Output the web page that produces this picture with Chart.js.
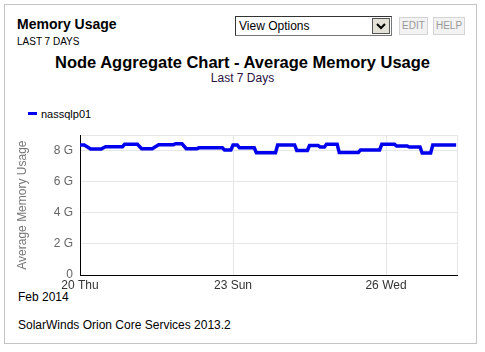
<!DOCTYPE html>
<html><head><meta charset="utf-8">
<script src="https://cdn.jsdelivr.net/npm/chart.js@4"></script>
<style>
html,body{margin:0;padding:0;background:#fff;}
body{width:485px;height:352px;position:relative;overflow:hidden;font-family:Arial,"Liberation Sans",sans-serif;}
.abs{position:absolute;white-space:nowrap;}
#box{left:4px;top:4px;width:471px;height:338px;border:1px solid #c4c4c4;}
#h1{left:17px;top:16px;font-size:14px;font-weight:bold;color:#000;}
#h2{left:17px;top:36px;font-size:10px;color:#000;}
#sel{left:235px;top:16px;width:155px;height:18px;border:1px solid #777;border-top-color:#333;border-left-color:#333;font-size:12px;line-height:18px;background:#fff;}
#sel span{position:absolute;left:3px;top:0;}
#arr{position:absolute;right:1px;top:1px;width:16px;height:14px;background:#e4e1d8;border:1px solid #555;}
.btn{top:17px;height:16px;border:1px solid #d4d4d4;background:#f2f2f2;font-size:10px;color:#999;line-height:16px;text-align:center;}
#t1{left:0;width:485px;top:53px;line-height:19px;text-align:center;font-size:16.5px;font-weight:bold;color:#000;}
#t2{left:0;width:485px;top:71px;line-height:14px;text-align:center;font-size:12px;color:#2a1040;}
#lg{left:28px;top:108px;font-size:11px;color:#000;}
#lg i{display:inline-block;width:9px;height:3px;background:#0000ee;vertical-align:middle;margin-right:4px;position:relative;top:-2px;}
#feb{left:18px;top:290px;font-size:12px;color:#000;}
#sw{left:18px;top:318px;font-size:12px;color:#000;}
#cv{left:8px;top:121px;width:467px;height:174px;}
</style></head><body>
<div class="abs" id="box"></div>
<div class="abs" id="h1">Memory Usage</div>
<div class="abs" id="h2">LAST 7 DAYS</div>
<div class="abs" id="sel"><span>View Options</span><div id="arr"><svg width="16" height="14"><polyline points="4,5 8,9 12,5" fill="none" stroke="#000" stroke-width="2"/></svg></div></div>
<div class="abs btn" style="left:399px;width:27px;">EDIT</div>
<div class="abs btn" style="left:433px;width:30px;">HELP</div>
<div class="abs" id="t1">Node Aggregate Chart - Average Memory Usage</div>
<div class="abs" id="t2">Last 7 Days</div>
<div class="abs" id="lg"><i></i>nassqlp01</div>
<div class="abs" id="feb">Feb 2014</div>
<div class="abs" id="sw">SolarWinds Orion Core Services 2013.2</div>
<div class="abs" id="cv"><canvas id="c" width="467" height="174"></canvas></div>
<script>
// hours since Feb 20 00:00
const hours = [0, 2, 5, 10, 12, 20, 21, 27, 29, 34, 37, 44, 45, 48, 50, 55, 56, 67, 68, 71, 72, 74, 75, 82, 83, 92, 93, 101, 102, 107, 108, 112, 113, 115, 116, 121, 122, 131, 132, 141, 142, 148, 149, 154, 155, 160, 161, 165, 166, 177];
// average memory usage, GB
const memGB = [8.37, 8.37, 8.11, 8.11, 8.26, 8.26, 8.41, 8.41, 8.13, 8.13, 8.39, 8.39, 8.45, 8.45, 8.13, 8.13, 8.19, 8.19, 8.05, 8.05, 8.37, 8.37, 8.19, 8.19, 7.87, 7.87, 8.37, 8.37, 8.02, 8.02, 8.34, 8.34, 8.24, 8.24, 8.42, 8.42, 7.89, 7.89, 8.05, 8.05, 8.41, 8.41, 8.30, 8.30, 8.24, 8.24, 7.85, 7.85, 8.37, 8.37];
const xTickHours = [0, 72, 144, 177.4];
const xTickLabels = ['20 Thu', '23 Sun', '26 Wed', ''];
const yTickValues = [0, 2, 4, 6, 8, 9];
const yTickLabels = ['0', '2 G', '4 G', '6 G', '8 G', ''];
const seriesName = 'nassqlp01';

const pts = hours.map((h, i) => ({x: h, y: memGB[i]}));
new Chart(document.getElementById('c'), {
  type: 'line',
  data: {datasets: [{label: seriesName, data: pts, borderColor: '#0000ee', borderWidth: 3.5, pointRadius: 0, tension: 0, fill: false}]},
  options: {
    responsive: false, animation: false,
    layout: {padding: {top: 0, right: 18, left: 0, bottom: 0}},
    plugins: {legend: {display: false}, tooltip: {enabled: false}},
    scales: {
      x: {
        type: 'linear', min: 0, max: 177.4,
        afterBuildTicks: s => { s.ticks = xTickHours.map(v => ({value: v})); },
        afterFit: s => { s.height = 20; },
        ticks: {autoSkip: false, maxRotation: 0, padding: 3, color: '#333', font: {family: 'Arial, "Liberation Sans"', size: 12},
          callback: (v, i) => xTickLabels[i]},
        grid: {color: '#e6e6e6', drawTicks: false},
        border: {color: '#000', width: 1}
      },
      y: {
        min: 0, max: 9,
        afterBuildTicks: s => { s.ticks = yTickValues.map(v => ({value: v})); },
        afterFit: s => { s.width = 72; },
        ticks: {padding: 7, color: '#666', font: {family: 'Arial, "Liberation Sans"', size: 12},
          callback: (v, i) => yTickLabels[i]},
        grid: {color: '#e6e6e6', drawTicks: false},
        border: {color: '#000', width: 1},
        title: {display: true, text: 'Average Memory Usage', color: '#777', font: {family: 'Arial, "Liberation Sans"', size: 12}, padding: {top: 7, bottom: 0}}
      }
    }
  }
});
</script>
</body></html>
